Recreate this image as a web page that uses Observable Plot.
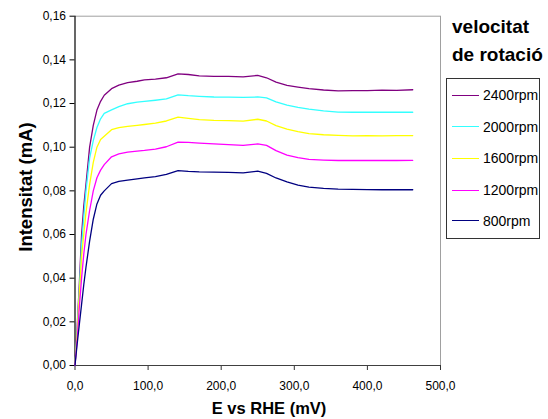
<!DOCTYPE html>
<html>
<head>
<meta charset="utf-8">
<script src="https://cdn.jsdelivr.net/npm/d3@7"></script>
<script src="https://cdn.jsdelivr.net/npm/@observablehq/plot@0.6"></script>
<style>
  html, body { margin: 0; padding: 0; background: white; }
  #wrap { position: relative; width: 548px; height: 419px; overflow: hidden; font-family: "Liberation Sans", Arial, sans-serif; }
  #legendTitle { position: absolute; left: 452px; top: 13px; font-weight: bold; font-size: 19px; line-height: 28px; color: #000; white-space: nowrap; }
  #legendBox { position: absolute; left: 446px; top: 78px; width: 94px; height: 161px; border: 1px solid #333; box-sizing: border-box; background: white; }
  .lg { position: absolute; left: 0; height: 16px; display: flex; align-items: center; font-size: 14px; white-space: nowrap; letter-spacing: 0px; }
  .lg .sw { width: 27px; height: 0; border-top: 1.5px solid; margin-left: 5px; margin-right: 4px; }
</style>
</head>
<body>
<div id="wrap">
  <div id="chart"></div>
  <div id="legendTitle">velocitat<br>de rotació</div>
  <div id="legendBox"></div>
</div>
<script>
// ---- data ----
const series = ["2400rpm", "2000rpm", "1600rpm", "1200rpm", "800rpm"];
const colors = ["#800080", "#33ffff", "#ffff00", "#ff00ff", "#000080"];
const xTicks = [0, 100, 200, 300, 400, 500];
const yTicks = [0, 0.02, 0.04, 0.06, 0.08, 0.10, 0.12, 0.14, 0.16];
const E = [0, 3, 6, 9, 12, 15, 20, 25, 30, 35, 40, 50, 60, 72, 85, 95, 110, 125, 141, 155, 170, 190, 210, 230, 250, 262, 275, 290, 305, 320, 340, 360, 380, 400, 420, 440, 462];
const I2400 = [0, 0.018, 0.038, 0.060, 0.073, 0.083, 0.100, 0.110, 0.117, 0.121, 0.1238, 0.1268, 0.1284, 0.1296, 0.1302, 0.1308, 0.1312, 0.1318, 0.1336, 0.1333, 0.1327, 0.1324, 0.1324, 0.1322, 0.1329, 0.1318, 0.1298, 0.1283, 0.1275, 0.1268, 0.1262, 0.1258, 0.1259, 0.1259, 0.1261, 0.1260, 0.1263];
const I2000 = [0, 0.016, 0.035, 0.055, 0.068, 0.080, 0.095, 0.103, 0.109, 0.113, 0.1155, 0.1171, 0.1186, 0.1199, 0.1206, 0.1210, 0.1215, 0.1221, 0.1240, 0.1236, 0.1233, 0.1230, 0.1229, 0.1228, 0.1230, 0.1226, 0.1208, 0.1193, 0.1182, 0.1174, 0.1166, 0.1161, 0.1160, 0.1160, 0.1160, 0.1160, 0.1160];
const I1600 = [0, 0.015, 0.033, 0.050, 0.060, 0.070, 0.083, 0.093, 0.100, 0.1035, 0.105, 0.108, 0.109, 0.1095, 0.110, 0.1104, 0.111, 0.112, 0.1138, 0.1132, 0.1126, 0.1123, 0.1122, 0.1119, 0.1128, 0.112, 0.1099, 0.1083, 0.1071, 0.1062, 0.1057, 0.1054, 0.1052, 0.1053, 0.1052, 0.1053, 0.1053];
const I1200 = [0, 0.012, 0.027, 0.040, 0.051, 0.060, 0.071, 0.080, 0.086, 0.0895, 0.092, 0.0956, 0.0969, 0.0977, 0.0982, 0.0985, 0.0991, 0.1002, 0.1023, 0.1022, 0.1019, 0.1015, 0.1012, 0.1008, 0.1015, 0.1008, 0.0984, 0.0964, 0.0952, 0.0944, 0.0941, 0.0939, 0.0939, 0.0939, 0.0939, 0.0939, 0.0940];
const I800 = [0, 0.010, 0.019, 0.028, 0.037, 0.045, 0.057, 0.067, 0.074, 0.078, 0.080, 0.0833, 0.0843, 0.0849, 0.0855, 0.0859, 0.0865, 0.0875, 0.0893, 0.0889, 0.0887, 0.0886, 0.0885, 0.0882, 0.0890, 0.0880, 0.0859, 0.0841, 0.0826, 0.0817, 0.0811, 0.0808, 0.0807, 0.0806, 0.0805, 0.0805, 0.0805];
const xTitle = "E vs RHE (mV)";
const yTitle = "Intensitat (mA)";

// ---- build table ----
const allI = [I2400, I2000, I1600, I1200, I800];
const rows = [];
series.forEach((s, k) => E.forEach((e, i) => rows.push({ series: s, E: e, I: allI[k][i] })));

const fmtY = d => d.toFixed(2).replace(".", ",");
const fmtX = d => d.toFixed(1).replace(".", ",");
const xMax = xTicks[xTicks.length - 1];
const yMax = yTicks[yTicks.length - 1];

const chart = Plot.plot({
  width: 548,
  height: 419,
  marginLeft: 74.5,
  marginRight: 108,
  marginTop: 15.7,
  marginBottom: 54,
  x: { domain: [0, xMax] },
  y: { domain: [0, yMax] },
  color: { domain: series, range: colors },
  style: { fontFamily: '"Liberation Sans", Arial, sans-serif', fontSize: "12px", color: "#000", background: "white" },
  marks: [
    Plot.ruleY([yMax], { stroke: "#a0a0a0", strokeWidth: 1 }),
    Plot.ruleX([xMax], { stroke: "#a0a0a0", strokeWidth: 1 }),
    Plot.axisY(yTicks, { tickSize: 5, tickPadding: 4, tickFormat: fmtY, label: null, fontSize: 12 }),
    Plot.axisX(xTicks, { tickSize: 5, tickPadding: 11, tickFormat: fmtX, label: null, fontSize: 12, stroke: "#333" }),
    Plot.ruleY([0], { stroke: "#404040", strokeWidth: 1.2 }),
    Plot.ruleX([0], { stroke: "#000", strokeWidth: 1.2 }),
    Plot.line(rows, { x: "E", y: "I", z: "series", stroke: "series", strokeWidth: 1.3 })
  ]
});
document.getElementById("chart").appendChild(chart);

// axis titles as real text
const svg = d3.select(chart);
svg.append("text")
  .attr("x", 269).attr("y", 414)
  .attr("text-anchor", "middle")
  .attr("font-weight", "bold").attr("font-size", 16.5)
  .attr("fill", "#000")
  .text(xTitle);
svg.append("text")
  .attr("transform", "translate(32,187) rotate(-90)")
  .attr("text-anchor", "middle")
  .attr("font-weight", "bold").attr("font-size", 18.5)
  .attr("fill", "#000")
  .text(yTitle);

// legend
const box = document.getElementById("legendBox");
const ys = [17, 48.7, 80.3, 112, 142.7];
series.forEach((s, k) => {
  const d = document.createElement("div");
  d.className = "lg";
  d.style.top = (ys[k] - 1 - 8) + "px";
  const sw = document.createElement("span");
  sw.className = "sw";
  sw.style.borderTopColor = colors[k];
  const t = document.createElement("span");
  t.textContent = s;
  d.appendChild(sw);
  d.appendChild(t);
  box.appendChild(d);
});
</script>
</body>
</html>
